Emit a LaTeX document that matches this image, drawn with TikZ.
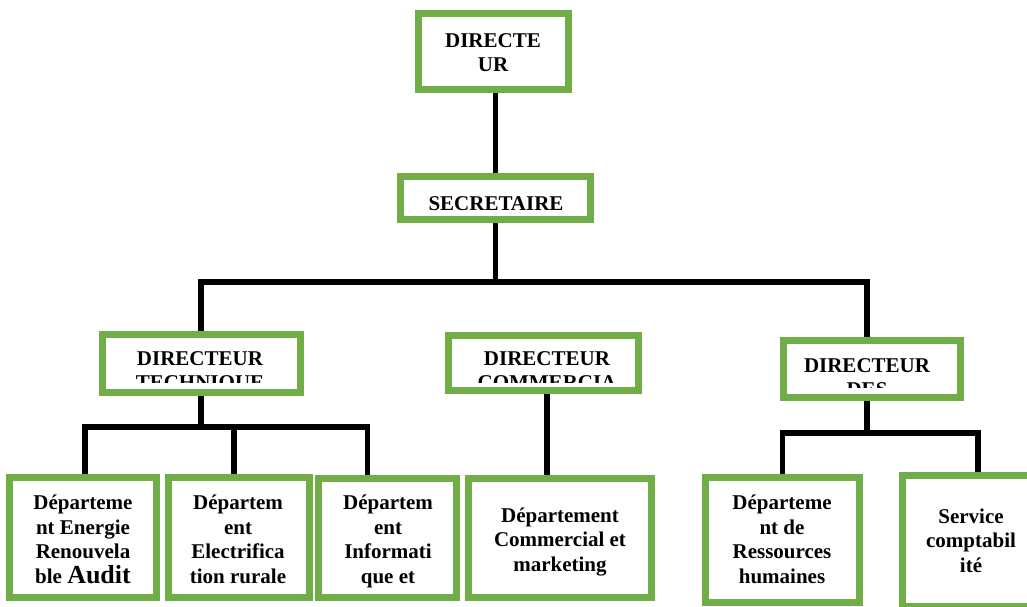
\documentclass[tikz,border=0pt]{standalone}
\usepackage{fontspec}
\setmainfont{Liberation Serif}
\definecolor{boxgreen}{HTML}{70AD47}
\tikzset{
  box/.style={draw=boxgreen, line width=7pt, fill=white, inner sep=0pt, minimum width=#1},
  conn/.style={draw=black, line width=5.5pt, line join=miter},
  txt/.style={inner sep=0pt, anchor=base, align=center, font=\bfseries\fontsize{21}{24.4}\selectfont}
}
\begin{document}
\begin{tikzpicture}[x=1pt,y=-1pt]
\useasboundingbox (0,0) rectangle (1027,607);
\clip (0,0) rectangle (1027,607);
\node[box=150pt, minimum height=76pt] (dir) at (493.5,51.5) {};
\node[box=190pt, minimum height=43pt] (sec) at (495.5,198) {};
\node[box=198pt, minimum height=58pt] (dt) at (201.5,363.5) {};
\node[box=190pt, minimum height=55pt] (dc) at (543.5,363) {};
\node[box=177pt, minimum height=57pt] (dd) at (872,369) {};
\node[box=147pt, minimum height=120pt] (b1) at (83,537.5) {};
\node[box=141pt, minimum height=120pt] (b2) at (239,537.5) {};
\node[box=138pt, minimum height=119pt] (b3) at (387.5,538) {};
\node[box=183pt, minimum height=119pt] (b4) at (560,538) {};
\node[box=154pt, minimum height=125pt] (b5) at (782.5,540) {};
\node[box=137pt, minimum height=131pt] (b6) at (971,541) {};
\coordinate (j1) at (495.5,282);
\coordinate (j2) at (201,427);
\coordinate (j3) at (867,433);
% level 1
\draw[conn] (sec.north) -- (sec.north |- dir.south);
\draw[conn] (sec.south) -- (sec.south |- j1);
\draw[conn] ([xshift=-0.5pt]dt.north) |- ([xshift=-5pt]dd.north |- j1) -- ([xshift=-5pt]dd.north);
% technique
\draw[conn] ([xshift=-0.5pt]dt.south) -- ([xshift=-0.5pt]dt.south |- j2);
\draw[conn] ([xshift=2pt]b1.north) |- (j2) -| ([xshift=-20pt]b3.north);
\draw[conn] ([xshift=-5pt]b2.north) -- ([xshift=-5pt]b2.north |- j2);
% commercial
\draw[conn] ([xshift=3.5pt]dc.south) -- ([xshift=3.5pt]dc.south |- b4.north);
% DES
\draw[conn] ([xshift=-5pt]dd.south) -- ([xshift=-5pt]dd.south |- j3);
\draw[conn] (b5.north) |- (j3) -| ([xshift=7pt]b6.north);
% texts (base anchor = baseline of last line)
\node[txt] (tdir) at (493,72) {DIRECTE\\UR};
\node[txt] (tsec) at (496,210.7) {SECRETAIRE};
\begin{scope}
  \clip ([yshift=-7pt]dt.north west) rectangle ([yshift=14pt]dt.south east);
  \node[txt] (tdt1) at (200,365) {DIRECTEUR};
  \node[txt] (tdt2) at (200,389.4) {TECHNIQUE};
\end{scope}
\begin{scope}
  \clip ([yshift=-7pt]dc.north west) rectangle ([yshift=12pt]dc.south east);
  \node[txt] (tdc1) at (547,365) {DIRECTEUR};
  \node[txt] (tdc2) at (547,389.4) {COMMERCIA};
\end{scope}
\begin{scope}
  \clip ([yshift=-7pt]dd.north west) rectangle ([yshift=14pt]dd.south east);
  \node[txt] (tdd1) at (867,372) {DIRECTEUR};
  \node[txt] (tdd2) at (867,396.4) {DES};
\end{scope}
\node[txt] (tb1) at (83,583) {Départeme\\nt Energie\\Renouvela\\ble {\fontsize{26}{24.4}\selectfont Audit}};
\node[txt] (tb2) at (238,583) {Départem\\ent\\Electrifica\\tion rurale};
\node[txt] (tb3) at (388,583) {Départem\\ent\\Informati\\que et};
\node[txt] (tb4) at (560,571) {Département\\Commercial et\\marketing};
\node[txt] (tb5) at (782,583) {Départeme\\nt de\\Ressources\\humaines};
\node[txt] (tb6) at (971,572) {Service\\comptabil\\ité};
\end{tikzpicture}
\end{document}
